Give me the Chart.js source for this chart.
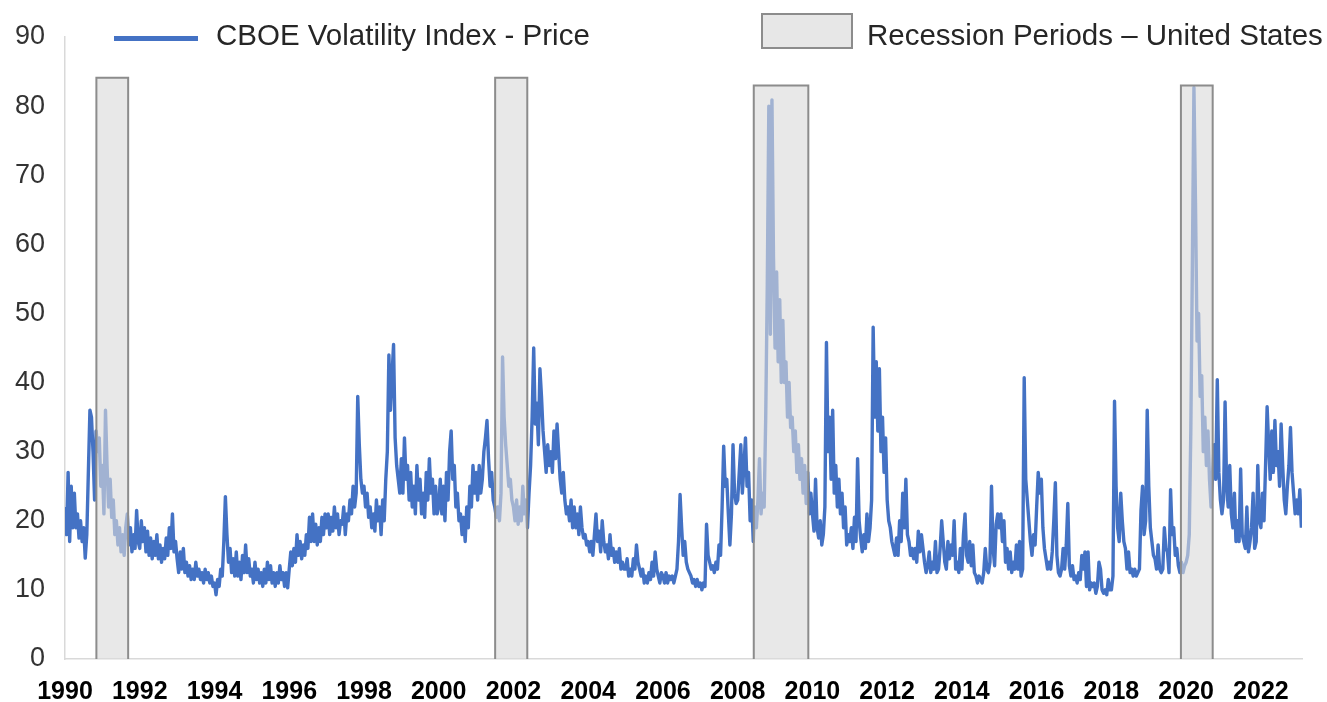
<!DOCTYPE html>
<html>
<head>
<meta charset="utf-8">
<title>CBOE Volatility Index</title>
<script src="https://cdn.jsdelivr.net/npm/chart.js@4.4.0/dist/chart.umd.min.js"></script>
<style>
  body { margin: 0; background: #fff; }
  #wrap { position: relative; width: 1327px; height: 702px; font-family: "Liberation Sans", Arial, sans-serif; color: #262626; }
  #wrap canvas { position: absolute; left: 0; top: 0; }
  .lg-line { position: absolute; left: 114px; top: 36px; width: 84px; height: 5px; background: #4472C4; }
  .lg-box { position: absolute; left: 761px; top: 13px; width: 88px; height: 32px; background: #e7e7e7; border: 2px solid #8c8c8c; }
  .lg-text { position: absolute; top: 18px; font-size: 29.5px; line-height: 34px; white-space: nowrap; }
</style>
</head>
<body>
<div id="wrap">
  <canvas id="vixChart" width="1327" height="702"></canvas>
  <div class="lg-line"></div>
  <div class="lg-text" style="left:216px">CBOE Volatility Index - Price</div>
  <div class="lg-box"></div>
  <div class="lg-text" style="left:867px">Recession Periods – United States</div>
</div>
<script>
// twice-monthly readings, starting Jan 1990
const startYear = 1990;
const pointsPerYear = 24;

const vix1990s = [
  22, 18, 27, 17, 25, 19, 24, 19, 21, 17.5, 20, 17, 19, 14.6, 18, 27, 36, 35, 30, 23, 33, 30, 32, 25, // 1990
  28, 21, 36, 28, 22, 26, 20.5, 23, 18, 20, 16.5, 19, 15.5, 18, 15, 19, 21, 16.5, 19, 15.5, 18, 16, 21.5, 17, // 1991
  16, 20, 17, 19, 15.5, 18.5, 15, 17.5, 14.5, 17, 15, 18, 14.5, 16.5, 14, 16, 14.5, 17.5, 15, 19, 16, 21, 15.5, 17, // 1992
  14.5, 12.5, 15.5, 13, 16, 12.5, 14, 12, 13.5, 11.5, 13, 11.5, 14, 12, 13, 11.5, 12.5, 11, 13, 11.5, 12.5, 11, 12, 10.5, // 1993
  11, 9.3, 11.5, 10.5, 13, 12, 17, 23.5, 18, 14, 16, 12.5, 14.5, 12, 15.5, 12, 14, 11.5, 15, 12.5, 16.5, 12.5, 14.5, 12, // 1994
  13, 11, 14, 11.5, 13, 11, 12.5, 10.5, 13, 11, 14, 11.5, 13.5, 11, 12.5, 10.5, 12.5, 11, 13.5, 11.5, 12.5, 10.5, 12.5, 10.3, // 1995
  13, 15.5, 13.5, 16, 14, 18, 15, 17, 14.5, 16.5, 15, 18, 16, 20.5, 17, 21, 17, 19.5, 16.5, 19, 17, 20.5, 18, 21, // 1996
  19, 21, 18, 20.5, 18.5, 22, 19, 21, 18, 20, 19.5, 22, 18, 21, 20, 23, 21, 25, 22, 24, 38, 31, 26, 24, // 1997
  25, 22, 24, 20.5, 22, 19, 21, 18.5, 23, 20, 22, 18, 23, 20, 26, 30, 44, 36, 41, 45.5, 32, 28, 26, 24, // 1998
  29, 24, 32, 26, 28, 23, 27, 22, 25, 21, 28, 23, 26, 21, 24, 20.5, 27, 23, 29, 24, 26, 21, 25, 21 // 1999
];

const vix2000s = [
  22, 26, 21, 25, 20, 27, 23, 30, 33, 26, 28, 22, 24, 20, 21, 18, 20.5, 17, 22, 19, 25, 22, 28, 24, // 2000
  27, 23, 28, 24, 26, 30, 32, 34.5, 29, 25, 27, 23, 22, 20.5, 22, 20, 24, 43.7, 35, 31, 28, 25, 26, 23, // 2001
  22, 20, 23, 19.5, 22, 20, 25, 21, 23, 19, 24, 28, 35, 45, 34, 37, 31, 42, 38, 33, 30, 27, 31, 28, // 2002
  30, 27, 33, 29, 34, 30, 26, 24, 27, 23, 21, 22, 20, 23, 19, 22, 19, 21, 18, 22, 19, 17.5, 18, 16.5, // 2003
  17, 15.5, 17, 15, 18, 21, 17, 18.5, 15.5, 20, 17, 15.5, 16.5, 14.5, 18, 15, 16, 14, 15.5, 14, 16, 13, 14, 13, // 2004
  13, 14.5, 12, 13, 12, 14.5, 13, 16.5, 14, 13, 12, 13, 11, 12, 11, 12.5, 11.5, 14, 12, 15.5, 13, 12, 11, 12.5, // 2005
  12, 11, 12.5, 11, 12, 11.5, 12, 11, 12, 13, 17, 23.8, 19, 15, 17, 14, 13, 12.5, 12, 11, 11.5, 10.5, 11.5, 10.5, // 2006
  11, 10, 11, 10.5, 19.5, 15, 14, 13, 13.5, 12.5, 14, 13, 16.5, 15, 22, 30.8, 25, 26, 21, 16.5, 21, 31, 24, 22.5, // 2007
  23, 27, 31, 24, 28, 32, 25, 27, 20, 23, 17, 22, 19, 23, 29, 21, 24, 22, 35, 54, 80, 47, 80.9, 58, // 2008
  45, 56, 43, 52, 40, 49, 40, 43, 35, 40, 33.5, 35, 30, 33, 27, 31, 26, 29, 24, 28, 22.5, 27, 21, 24 // 2009
];

const vix2010s = [
  21, 18.5, 26, 19, 17.5, 20, 16.5, 18, 22, 45.8, 30, 35, 26, 36, 24, 28, 22, 26, 21, 24, 19, 22, 16.5, 18, // 2010
  17, 19, 16, 20.5, 17, 29, 20, 17.5, 15.5, 18, 16, 21, 17, 19, 23, 48, 35, 43, 33, 42, 30, 35, 27, 32, // 2011
  23, 20, 19, 17, 16, 15, 17.5, 15, 20, 17, 24, 19, 26, 18, 17, 15, 16, 14.5, 16, 14, 18.5, 15.5, 18, 16, // 2012
  14, 12.5, 13.5, 15.5, 12.5, 14, 13, 17, 12.5, 13, 16, 20, 17, 14, 13, 17, 14.5, 16.5, 15, 20, 13, 14, 12.5, 16, // 2013
  13, 18, 21, 15, 14, 17, 13.5, 16.5, 12.5, 12, 11, 12, 11.5, 11, 12.5, 16, 13, 12.5, 14, 25, 16, 13.5, 19.5, 21, // 2014
  19, 21, 17, 20, 14, 16, 13, 15.5, 12.5, 14, 13, 16.5, 13, 17, 12, 13, 40.7, 26, 23, 20, 17, 15, 18, 16.5, // 2015
  22, 27, 24, 26, 19, 16, 14.5, 13, 14, 13, 15.5, 20, 25.5, 15, 12.5, 12, 13, 16, 13, 16.5, 22.5, 13.5, 12, 13.5, // 2016
  11.5, 12, 11, 12.5, 11.5, 15, 13, 15.5, 10.5, 15.5, 10, 11, 10.5, 11, 9.5, 10.5, 14, 13, 10, 9.5, 10, 9.3, 11.5, 10, // 2017
  10, 12, 37.3, 25, 19, 17, 24, 20, 17, 16, 13, 15.5, 12.5, 13, 12, 13, 12, 12.5, 13, 21.5, 25, 18, 20, 36, // 2018
  25, 19, 17, 15, 14.5, 13, 16.5, 13, 12.5, 13, 19, 16, 15.5, 12.5, 24.5, 18, 19, 15, 16, 13.5, 12.5, 14, 12.5, 13.5 // 2019
];

const vix2020s = [
  14, 15, 18, 33, 57, 82.7, 66, 46, 50, 38, 41, 30, 35, 28, 33, 26, 22, 27, 31, 26, 40.4, 27, 23, 21, // 2020
  23, 37.2, 25, 22, 28, 21, 19, 24, 17, 20, 17, 27.5, 18, 17, 16, 22, 15.5, 17, 19, 24, 16, 17, 28, 20, // 2021
  19, 24, 20, 28, 36.5, 31, 26, 33, 27, 34.5, 28, 30, 25, 34, 28, 23, 21, 25, 28, 33.5, 27, 24, 21, 23, // 2022
  21, 24.5, 19 // 2023
];

// US recession shading (start / end in decimal years, box height)
const recessionStart = [1990.84, 2001.51, 2008.43, 2019.86];
const recessionEnd = [1991.69, 2002.37, 2009.89, 2020.71];
const recessionTop = [84.1, 84.1, 83, 83];

const yearTicks = [1990, 1992, 1994, 1996, 1998, 2000, 2002, 2004, 2006, 2008, 2010, 2012, 2014, 2016, 2018, 2020, 2022];

const vix = [...vix1990s, ...vix2000s, ...vix2010s, ...vix2020s];
const vixPoints = vix.map((v, i) => ({ x: startYear + i / pointsPerYear, y: v }));

const recessionSets = recessionStart.map((s, k) => ({
  label: 'Recession Periods – United States',
  data: [
    { x: s, y: 0 },
    { x: s, y: recessionTop[k] },
    { x: recessionEnd[k], y: recessionTop[k] },
    { x: recessionEnd[k], y: 0 }
  ],
  borderColor: '#8c8c8c',
  borderWidth: 2,
  backgroundColor: 'rgba(218,218,218,0.62)',
  fill: 'origin',
  pointRadius: 0,
  tension: 0,
  order: 0
}));

Chart.defaults.font.family = "'Liberation Sans', Arial, sans-serif";

const ctx = document.getElementById('vixChart').getContext('2d');
new Chart(ctx, {
  type: 'line',
  data: {
    datasets: [{
      label: 'CBOE Volatility Index - Price',
      data: vixPoints,
      borderColor: '#4472C4',
      borderWidth: 3.4,
      borderJoinStyle: 'round',
      pointRadius: 0,
      tension: 0,
      fill: false,
      order: 1
    }, ...recessionSets]
  },
  options: {
    responsive: false,
    animation: false,
    layout: { padding: { top: 37, right: 25, left: 0, bottom: 0 } },
    plugins: {
      legend: { display: false },
      tooltip: { enabled: false }
    },
    scales: {
      x: {
        type: 'linear',
        min: 1990,
        max: 2023.1,
        grid: { display: false },
        border: { display: true, color: '#d9d9d9', width: 1.5 },
        afterFit: (scale) => { scale.height = 43; },
        afterBuildTicks: (scale) => { scale.ticks = yearTicks.map(v => ({ value: v })); },
        ticks: {
          autoSkip: false,
          maxRotation: 0,
          padding: 10,
          color: '#000',
          font: { size: 25, weight: 'bold' },
          callback: (v) => String(v)
        }
      },
      y: {
        min: 0,
        max: 90,
        grid: { display: false, drawTicks: false },
        border: { display: true, color: '#d9d9d9', width: 1.5 },
        afterFit: (scale) => { scale.width = 65; },
        ticks: {
          stepSize: 10,
          padding: 20,
          color: '#333',
          font: { size: 27 }
        }
      }
    }
  }
});
</script>
</body>
</html>
